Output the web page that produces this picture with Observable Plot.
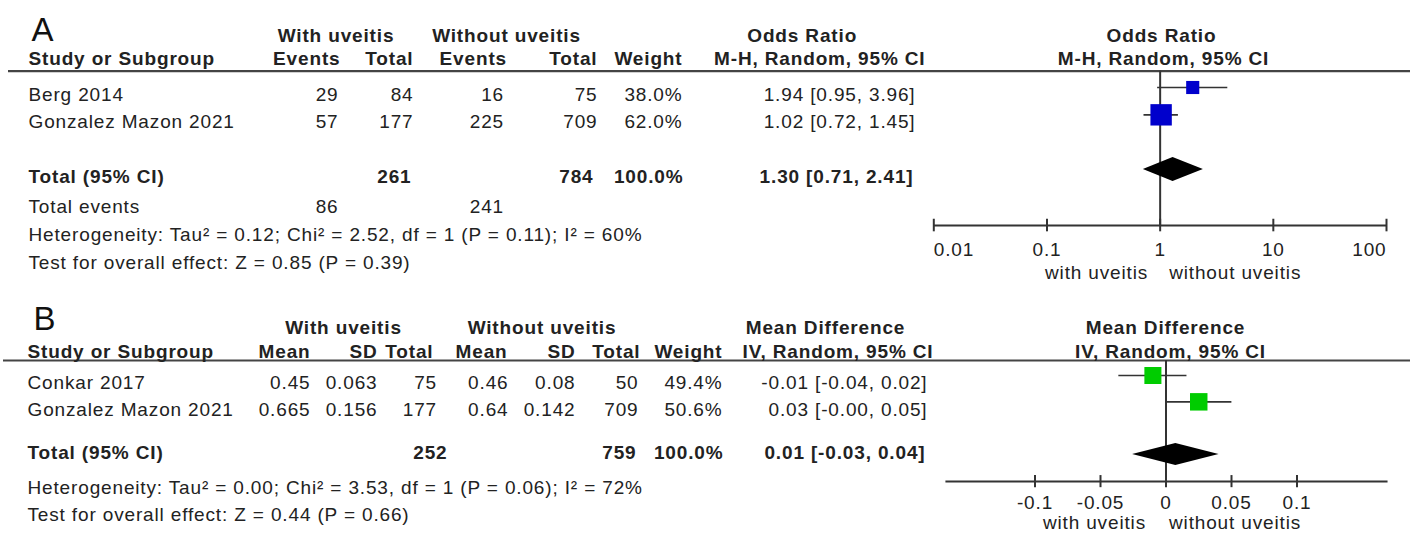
<!DOCTYPE html>
<html><head><meta charset="utf-8">
<script src="https://cdn.jsdelivr.net/npm/d3@7"></script>
<script src="https://cdn.jsdelivr.net/npm/@observablehq/plot@0.6"></script>
<style>
body{margin:0;background:#fff;}
#chart{position:relative;width:1410px;height:533px;overflow:hidden;background:#fff;}
#chart svg{position:absolute;left:0;top:0;}
</style></head><body><div id="chart"></div>
<script>
// ---------- Panel A: odds ratio ----------
const studiesA = ["Berg 2014", "Gonzalez Mazon 2021"];
const eventsWithA = [29, 57];
const totalWithA = [84, 177];
const eventsWithoutA = [16, 225];
const totalWithoutA = [75, 709];
const weightA = [38.0, 62.0];
const orA = [1.94, 1.02];
const orLowA = [0.95, 0.72];
const orHighA = [3.96, 1.45];
const pooledA = [1.30, 0.71, 2.41];       // estimate, low, high
const sumTotalsA = [261, 784];
const sumEventsA = [86, 241];
const hetA = "Heterogeneity: Tau² = 0.12; Chi² = 2.52, df = 1 (P = 0.11); I² = 60%";
const testA = "Test for overall effect: Z = 0.85 (P = 0.39)";
const ticksA = [0.01, 0.1, 1, 10, 100];
const tickLabelsA = ["0.01", "0.1", "1", "10", "100"];

// ---------- Panel B: mean difference ----------
const studiesB = ["Conkar 2017", "Gonzalez Mazon 2021"];
const meanWithB = [0.45, 0.665];
const sdWithB = [0.063, 0.156];
const nWithB = [75, 177];
const meanWithoutB = [0.46, 0.64];
const sdWithoutB = [0.08, 0.142];
const nWithoutB = [50, 709];
const weightB = [49.4, 50.6];
const mdB = [-0.01, 0.025];
const mdLowB = [-0.036, -0.0003];
const mdHighB = [0.016, 0.0503];
const pooledB = [0.0075, -0.0255, 0.0405];
const sumTotalsB = [252, 759];
const hetB = "Heterogeneity: Tau² = 0.00; Chi² = 3.53, df = 1 (P = 0.06); I² = 72%";
const testB = "Test for overall effect: Z = 0.44 (P = 0.66)";
const ticksB = [-0.1, -0.05, 0, 0.05, 0.1];
const tickLabelsB = ["-0.1", "-0.05", "0", "0.05", "0.1"];

// ---------- shared style ----------
const FONT = "'Liberation Sans', Arial, sans-serif";
const FS = 19;
const INK = "#222";
const LINE = "#333";
const baseStyle = {fontFamily: FONT, letterSpacing: "0.85px", background: "transparent", overflow: "visible"};
const fmt2 = v => v.toFixed(2);
const fmtCI = (e, l, h) => `${fmt2(e)} [${fmt2(l)}, ${fmt2(h)}]`;
const pct = v => v.toFixed(1) + "%";

// ---------- table text cells ----------
const cells = [];
const add = (x, y, text, anchor = "end", fw = "normal") => cells.push({x, y, text: String(text), anchor, fw});

// Panel A table
add(335.5, 41, "With uveitis", "middle", "bold");
add(506, 41, "Without uveitis", "middle", "bold");
add(801.7, 41, "Odds Ratio", "middle", "bold");
add(1161, 41, "Odds Ratio", "middle", "bold");
add(28, 64.5, "Study or Subgroup", "start", "bold");
add(340, 64.5, "Events", "end", "bold");
add(413, 64.5, "Total", "end", "bold");
add(506.5, 64.5, "Events", "end", "bold");
add(597, 64.5, "Total", "end", "bold");
add(682, 64.5, "Weight", "end", "bold");
add(925, 64.5, "M-H, Random, 95% CI", "end", "bold");
add(1163, 64.5, "M-H, Random, 95% CI", "middle", "bold");
const rowYA = [100, 127.7];
studiesA.forEach((s, i) => {
  const y = rowYA[i];
  add(28, y, s, "start");
  add(338, y, eventsWithA[i]);
  add(413, y, totalWithA[i]);
  add(503.5, y, eventsWithoutA[i]);
  add(597, y, totalWithoutA[i]);
  add(682, y, pct(weightA[i]));
  add(915, y, fmtCI(orA[i], orLowA[i], orHighA[i]));
});
add(28, 182, "Total (95% CI)", "start", "bold");
add(411, 182, sumTotalsA[0], "end", "bold");
add(593, 182, sumTotalsA[1], "end", "bold");
add(683, 182, pct(d3.sum(weightA)), "end", "bold");
add(913, 182, fmtCI(...pooledA), "end", "bold");
add(28, 212.5, "Total events", "start");
add(338, 212.5, sumEventsA[0]);
add(503.5, 212.5, sumEventsA[1]);
add(28, 240, hetA, "start");
add(28, 268, testA, "start");

// Panel B table
add(343, 333, "With uveitis", "middle", "bold");
add(541.5, 333, "Without uveitis", "middle", "bold");
add(825, 333, "Mean Difference", "middle", "bold");
add(1165, 333, "Mean Difference", "middle", "bold");
add(27, 357, "Study or Subgroup", "start", "bold");
add(310, 357, "Mean", "end", "bold");
add(377, 357, "SD", "end", "bold");
add(433, 357, "Total", "end", "bold");
add(507, 357, "Mean", "end", "bold");
add(575, 357, "SD", "end", "bold");
add(640, 357, "Total", "end", "bold");
add(722, 357, "Weight", "end", "bold");
add(933, 357, "IV, Random, 95% CI", "end", "bold");
add(1170, 357, "IV, Random, 95% CI", "middle", "bold");
const rowYB = [388, 415];
studiesB.forEach((s, i) => {
  const y = rowYB[i];
  add(27, y, s, "start");
  add(310, y, meanWithB[i]);
  add(377, y, sdWithB[i]);
  add(436.5, y, nWithB[i]);
  add(508, y, meanWithoutB[i]);
  add(575, y, sdWithoutB[i]);
  add(638, y, nWithoutB[i]);
  add(722, y, pct(weightB[i]));
  add(927, y, fmtCI(mdB[i], mdLowB[i], mdHighB[i]));
});
add(27, 458, "Total (95% CI)", "start", "bold");
add(447, 458, sumTotalsB[0], "end", "bold");
add(636, 458, sumTotalsB[1], "end", "bold");
add(723, 458, pct(d3.sum(weightB)), "end", "bold");
add(925, 458, fmtCI(...pooledB), "end", "bold");
add(27, 493, hetB, "start");
add(27, 520, testB, "start");

function textMarks(data, opts = {}) {
  const marks = [];
  for (const anchor of ["start", "middle", "end"]) for (const fw of ["normal", "bold"]) {
    const sub = data.filter(c => c.anchor === anchor && c.fw === fw);
    if (sub.length) marks.push(Plot.text(sub, {
      x: "x", y: "y", text: "text", textAnchor: anchor, fontWeight: fw,
      lineAnchor: "bottom", fontSize: FS, fill: INK, ...opts
    }));
  }
  return marks;
}

const panelLabels = [{x: 31, y: 40, text: "A"}, {x: 33, y: 329, text: "B"}];

const table = Plot.plot({
  width: 1410, height: 533, margin: 0,
  x: {domain: [0, 1410], range: [0, 1410], axis: null},
  y: {domain: [0, 533], range: [0, 533], axis: null},
  style: baseStyle,
  marks: [
    Plot.ruleY([70.7], {x1: 8, x2: 1410, stroke: "#444", strokeWidth: 2.2}),
    Plot.ruleY([360], {x1: 3, x2: 1410, stroke: "#444", strokeWidth: 2.2}),
    ...textMarks(cells),
    Plot.text(panelLabels, {x: "x", y: "y", text: "text", textAnchor: "start", lineAnchor: "bottom",
      fontSize: 33, fill: "#111", fontFamily: FONT})
  ]
});

// ---------- forest plots ----------
const sideFactor = 0.345; // square side in px per weight %
const rScale = {type: "linear", domain: [0, 100], range: [0, 100 * sideFactor / Math.sqrt(Math.PI)]};

function tickLabelMarks(ticks, labels, axisRow, dy, edgeAnchors) {
  const items = ticks.map((t, i) => ({t, label: labels[i],
    anchor: edgeAnchors ? (i === 0 ? "start" : i === ticks.length - 1 ? "end" : "middle") : "middle"}));
  return ["start", "middle", "end"].map(a => Plot.text(items.filter(d => d.anchor === a), {
    x: "t", y: axisRow, text: "label", textAnchor: a, lineAnchor: "bottom", dy,
    fontSize: FS, fill: INK
  }));
}

// Panel A forest
const studyRowsA = studiesA.map((s, i) => ({row: i, est: orA[i], lo: orLowA[i], hi: orHighA[i], weight: weightA[i]}));
const totRowA = 3, headRowA = -0.6, axisRowA = 5.05, dHA = 0.44;
const diamondA = [
  {x: pooledA[1], y1: totRowA, y2: totRowA},
  {x: pooledA[0], y1: totRowA - dHA, y2: totRowA + dHA},
  {x: pooledA[2], y1: totRowA, y2: totRowA}
];
const forestA = Plot.plot({
  width: 1410, height: 533, margin: 0,
  x: {type: "log", domain: [0.01, 100], range: [933.3, 1386], axis: null},
  y: {domain: [0, 3], range: [87, 169], axis: null},
  r: rScale,
  style: baseStyle,
  marks: [
    Plot.ruleX([1], {y1: headRowA, y2: axisRowA, stroke: LINE, strokeWidth: 2}),
    Plot.ruleY(studyRowsA, {y: "row", x1: "lo", x2: "hi", stroke: LINE, strokeWidth: 1.6}),
    Plot.dot(studyRowsA, {x: "est", y: "row", r: "weight", symbol: "square", fill: "#0000cc"}),
    Plot.areaY(diamondA, {x: "x", y1: "y1", y2: "y2", fill: "#000"}),
    Plot.ruleY([axisRowA], {x1: ticksA[0], x2: ticksA[ticksA.length - 1], stroke: LINE, strokeWidth: 2}),
    Plot.ruleX(ticksA, {y1: axisRowA - 0.23, y2: axisRowA + 0.23, stroke: LINE, strokeWidth: 2}),
    ...tickLabelMarks(ticksA, tickLabelsA, axisRowA, 30, true),
    Plot.text(["with uveitis"], {x: 1, y: axisRowA, text: d => d, textAnchor: "end", lineAnchor: "bottom", dx: -12, dy: 53, fontSize: FS, fill: INK}),
    Plot.text(["without uveitis"], {x: 1, y: axisRowA, text: d => d, textAnchor: "start", lineAnchor: "bottom", dx: 9, dy: 53, fontSize: FS, fill: INK})
  ]
});

// Panel B forest
const studyRowsB = studiesB.map((s, i) => ({row: i, est: mdB[i], lo: mdLowB[i], hi: mdHighB[i], weight: weightB[i]}));
const totRowB = 3, headRowB = -0.57, axisRowB = 4.03, dHB = 0.42;
const diamondB = [
  {x: pooledB[1], y1: totRowB, y2: totRowB},
  {x: pooledB[0], y1: totRowB - dHB, y2: totRowB + dHB},
  {x: pooledB[2], y1: totRowB, y2: totRowB}
];
const axisExtentB = [-0.168, 0.1695];
const forestB = Plot.plot({
  width: 1410, height: 533, margin: 0,
  x: {domain: [-0.1, 0.1], range: [1034.5, 1296.5], axis: null},
  y: {domain: [0, 3], range: [375, 454], axis: null},
  r: rScale,
  style: baseStyle,
  marks: [
    Plot.ruleX([0], {y1: headRowB, y2: axisRowB, stroke: LINE, strokeWidth: 2}),
    Plot.ruleY(studyRowsB, {y: "row", x1: "lo", x2: "hi", stroke: LINE, strokeWidth: 1.6}),
    Plot.dot(studyRowsB, {x: "est", y: "row", r: "weight", symbol: "square", fill: "#00cc00"}),
    Plot.areaY(diamondB, {x: "x", y1: "y1", y2: "y2", fill: "#000"}),
    Plot.ruleY([axisRowB], {x1: axisExtentB[0], x2: axisExtentB[1], stroke: LINE, strokeWidth: 2}),
    Plot.ruleX(ticksB, {y1: axisRowB - 0.23, y2: axisRowB + 0.23, stroke: LINE, strokeWidth: 2}),
    ...tickLabelMarks(ticksB, tickLabelsB, axisRowB, 27, false),
    Plot.text(["with uveitis"], {x: 0, y: axisRowB, text: d => d, textAnchor: "end", lineAnchor: "bottom", dx: -20, dy: 47, fontSize: FS, fill: INK}),
    Plot.text(["without uveitis"], {x: 0, y: axisRowB, text: d => d, textAnchor: "start", lineAnchor: "bottom", dx: 3, dy: 47, fontSize: FS, fill: INK})
  ]
});

const chart = document.getElementById("chart");
chart.append(table, forestA, forestB);
</script>
</body></html>
